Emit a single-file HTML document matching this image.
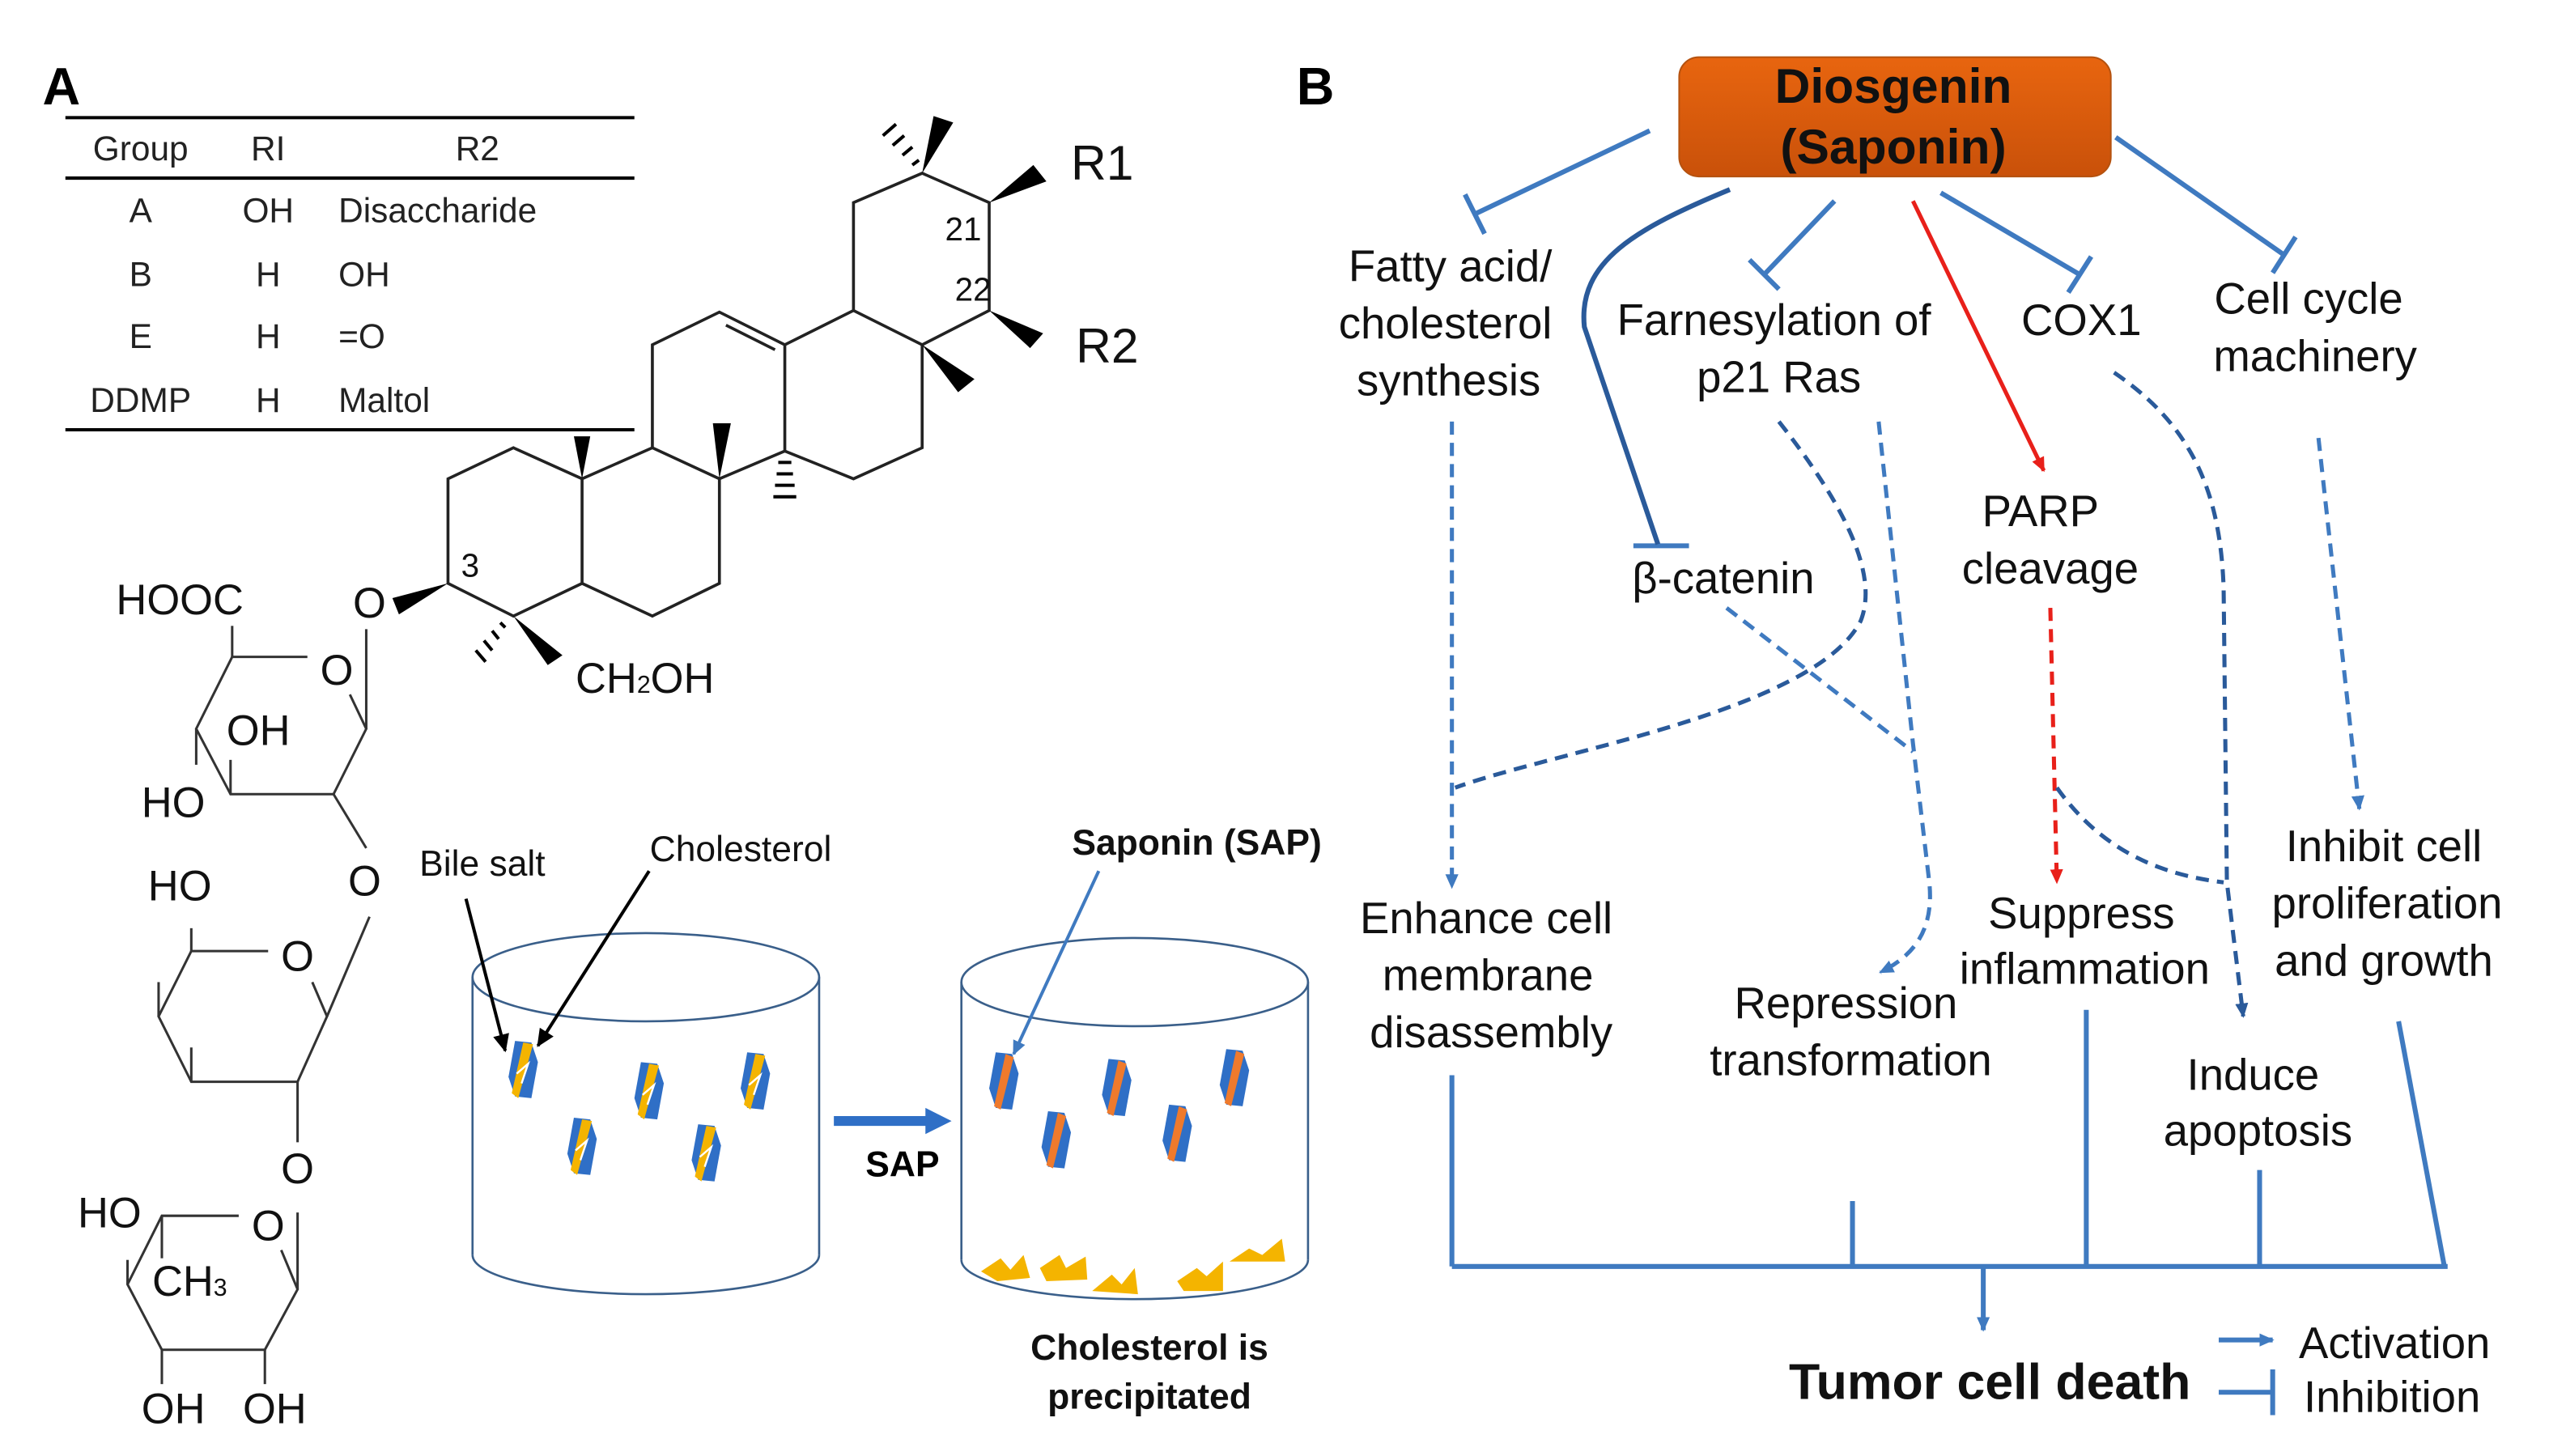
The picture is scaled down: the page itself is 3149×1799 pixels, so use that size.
<!DOCTYPE html>
<html><head><meta charset="utf-8"><style>
html,body{margin:0;padding:0;background:#fff}
svg{display:block}
text{font-family:"Liberation Sans",Arial,sans-serif}
</style></head><body>
<svg width="3149" height="1799" viewBox="0 0 1559 891" preserveAspectRatio="none" xmlns="http://www.w3.org/2000/svg">
<defs>
<linearGradient id="og" x1="0" y1="0" x2="0" y2="1">
<stop offset="0" stop-color="#e8650f"/><stop offset="1" stop-color="#c9510a"/>
</linearGradient>
<marker id="ab" markerWidth="10" markerHeight="10" refX="8" refY="5" orient="auto" markerUnits="userSpaceOnUse"><path d="M0,1 L9,5 L0,9 z" fill="#3f7ac0"/></marker>
<marker id="ar" markerWidth="10" markerHeight="10" refX="8" refY="5" orient="auto" markerUnits="userSpaceOnUse"><path d="M0,1 L9,5 L0,9 z" fill="#e8201a"/></marker>
<marker id="ak" markerWidth="12" markerHeight="12" refX="10" refY="6" orient="auto" markerUnits="userSpaceOnUse"><path d="M0,1 L11,6 L0,11 z" fill="#000"/></marker>
<marker id="abd" markerWidth="10" markerHeight="10" refX="8" refY="5" orient="auto" markerUnits="userSpaceOnUse"><path d="M0,1 L9,5 L0,9 z" fill="#2a5a9a"/></marker>
<g id="py"><polygon points="-5,-18 5,-17 9,-5 5,17 -5,16 -9,4" fill="#2f6fc6"/><polygon points="0,-17 6,-16 -3,17 -7,14" fill="#f4b400"/><path d="M-4,2 L3,-4 L-1,8" stroke="#fff" stroke-width="1.2" fill="none"/></g>
<g id="po"><polygon points="-5,-18 5,-17 9,-5 5,17 -5,16 -9,4" fill="#2f6fc6"/><polygon points="1,-17 6,-15 -2,17 -6,15" fill="#ef7a2c"/></g>
</defs>

<!-- Panel A -->
<text x="26" y="64" font-size="32" font-weight="bold">A</text>
<g stroke="#000" stroke-width="2"><line x1="40" y1="72" x2="388" y2="72"/><line x1="40" y1="109" x2="388" y2="109"/><line x1="40" y1="263" x2="388" y2="263"/></g>
<g font-size="21" fill="#222">
<text x="86" y="98" text-anchor="middle">Group</text><text x="164" y="98" text-anchor="middle">RI</text><text x="292" y="98" text-anchor="middle">R2</text>
<text x="86" y="136" text-anchor="middle">A</text><text x="164" y="136" text-anchor="middle">OH</text><text x="207" y="136">Disaccharide</text>
<text x="86" y="175" text-anchor="middle">B</text><text x="164" y="175" text-anchor="middle">H</text><text x="207" y="175">OH</text>
<text x="86" y="213" text-anchor="middle">E</text><text x="164" y="213" text-anchor="middle">H</text><text x="207" y="213">=O</text>
<text x="86" y="252" text-anchor="middle">DDMP</text><text x="164" y="252" text-anchor="middle">H</text><text x="207" y="252">Maltol</text>
</g>
<!-- steroid -->
<g stroke="#222" stroke-width="1.8" fill="none">
<polyline points="356,293 314,274 274,293 274,357 314,377 356,357 356,293 399,274 440,293 440,357 399,377 356,357"/>
<polyline points="399,274 399,211 440,191 480,211 480,276 440,293"/>
<line x1="444" y1="199" x2="474" y2="214"/>
<polyline points="480,211 522,190 564,211 564,274 522,293 480,276"/>
<polyline points="522,190 522,124 564,106 605,124 605,190 564,211"/>
</g>
<g fill="#000">
<polygon points="356,293 351,267 361,267"/>
<polygon points="440,293 436,259 447,259"/>
<polygon points="564,211 586,240 596,232"/>
<polygon points="605,190 630,213 638,204"/>
<polygon points="605,124 632,101 640,111"/>
<polygon points="564,106 571,71 583,75"/>
<polygon points="274,357 240,366 244,376"/>
<polygon points="314,377 335,407 344,401"/>
</g>
<g stroke="#000" stroke-width="2">
<line x1="476" y1="283" x2="484" y2="283"/><line x1="475" y1="290" x2="485" y2="290"/><line x1="474" y1="297" x2="486" y2="297"/><line x1="473" y1="304" x2="487" y2="304"/>
<line x1="558" y1="101" x2="562" y2="98"/><line x1="552" y1="95" x2="558" y2="90"/><line x1="546" y1="89" x2="553" y2="83"/><line x1="540" y1="83" x2="548" y2="76"/>
<line x1="309" y1="384" x2="306" y2="381"/><line x1="305" y1="391" x2="301" y2="386"/><line x1="301" y1="398" x2="296" y2="392"/><line x1="297" y1="405" x2="291" y2="398"/>
</g>
<g font-size="30" fill="#111"><text x="655" y="110">R1</text><text x="658" y="222">R2</text></g>
<g font-size="20" fill="#111"><text x="578" y="147">21</text><text x="584" y="184">22</text><text x="282" y="353">3</text></g>
<text x="352" y="424" font-size="26" fill="#111">CH<tspan font-size="15">2</tspan>OH</text>
<!-- sugars -->
<g stroke="#333" stroke-width="1.5" fill="none">
<polyline points="188,402 142,402 120,446 141,486 204,486 224,446 214,425"/>
<line x1="142" y1="402" x2="142" y2="383"/><line x1="120" y1="446" x2="120" y2="468"/><line x1="141" y1="486" x2="141" y2="465"/>
<line x1="224" y1="446" x2="224" y2="385"/><line x1="204" y1="486" x2="224" y2="519"/>
<polyline points="164,582 117,582 97,622 117,662 182,662 200,622 191,601"/>
<line x1="117" y1="582" x2="117" y2="568"/><line x1="97" y1="622" x2="97" y2="601"/><line x1="117" y1="662" x2="117" y2="641"/>
<line x1="200" y1="622" x2="226" y2="561"/><line x1="182" y1="662" x2="182" y2="699"/>
<polyline points="146,744 99,744 78,786 99,826 162,826 182,789 172,765"/>
<line x1="99" y1="744" x2="99" y2="770"/><line x1="78" y1="786" x2="78" y2="771"/><line x1="99" y1="826" x2="99" y2="847"/><line x1="162" y1="826" x2="162" y2="847"/>
<line x1="182" y1="789" x2="182" y2="742"/>
</g>
<g font-size="26" fill="#111" text-anchor="middle">
<text x="110" y="376">HOOC</text><text x="226" y="378">O</text><text x="206" y="419">O</text>
<text x="158" y="456">OH</text><text x="106" y="500">HO</text><text x="223" y="548">O</text>
<text x="110" y="551">HO</text><text x="182" y="594">O</text><text x="182" y="724">O</text>
<text x="67" y="751">HO</text><text x="164" y="759">O</text><text x="116" y="793">CH<tspan font-size="15">3</tspan></text>
<text x="106" y="871">OH</text><text x="168" y="871">OH</text>
</g>
<!-- cylinders -->
<g stroke="#3a5f8a" stroke-width="1.3" fill="none">
<ellipse cx="395" cy="598" rx="106" ry="27"/>
<line x1="289" y1="598" x2="289" y2="768"/><line x1="501" y1="598" x2="501" y2="768"/>
<path d="M289,768 A106,24 0 0 0 501,768"/>
<ellipse cx="694" cy="601" rx="106" ry="27"/>
<line x1="588" y1="601" x2="588" y2="771"/><line x1="800" y1="601" x2="800" y2="771"/>
<path d="M588,771 A106,24 0 0 0 800,771"/>
</g>
<use href="#py" x="320" y="655"/><use href="#py" x="397" y="668"/><use href="#py" x="462" y="662"/><use href="#py" x="356" y="702"/><use href="#py" x="432" y="706"/>
<use href="#po" x="614" y="662"/><use href="#po" x="683" y="666"/><use href="#po" x="755" y="660"/><use href="#po" x="646" y="698"/><use href="#po" x="720" y="694"/>
<g fill="#f4b400">
<polygon points="600,778 612,770 618,777 626,768 630,782 610,784"/>
<polygon points="636,776 648,768 652,776 664,769 665,783 640,784"/>
<polygon points="668,790 680,780 686,786 694,776 696,792"/>
<polygon points="720,784 732,776 738,781 748,772 748,790 724,790"/>
<polygon points="752,772 764,764 772,768 784,758 786,772"/>
</g>
<path d="M510,686 L568,686" stroke="#2f6fc6" stroke-width="6"/><polygon points="566,678 582,686 566,694" fill="#2f6fc6"/>
<text x="552" y="720" font-size="22" font-weight="bold" text-anchor="middle">SAP</text>
<line x1="285" y1="550" x2="309" y2="643" stroke="#000" stroke-width="2" marker-end="url(#ak)"/>
<line x1="397" y1="533" x2="329" y2="640" stroke="#000" stroke-width="2" marker-end="url(#ak)"/>
<line x1="672" y1="533" x2="620" y2="645" stroke="#3f7ac0" stroke-width="2" marker-end="url(#ab)"/>
<g font-size="22" fill="#111" text-anchor="middle">
<text x="295" y="536">Bile salt</text><text x="453" y="527">Cholesterol</text>
</g>
<g font-size="22" font-weight="bold" fill="#111" text-anchor="middle">
<text x="732" y="523">Saponin (SAP)</text><text x="703" y="832">Cholesterol is</text><text x="703" y="862">precipitated</text>
</g>

<!-- Panel B -->
<text x="793" y="64" font-size="32" font-weight="bold">B</text>
<rect x="1027" y="35" width="264" height="73" rx="12" fill="url(#og)" stroke="#b5520f" stroke-width="1"/>
<g font-size="30" font-weight="bold" fill="#111" text-anchor="middle"><text x="1158" y="63">Diosgenin</text><text x="1158" y="100">(Saponin)</text></g>
<g stroke="#3f7ac0" stroke-width="3" fill="none">
<line x1="1009" y1="80" x2="902" y2="131"/><line x1="908" y1="143" x2="896" y2="119"/>
<line x1="1122" y1="123" x2="1079" y2="168"/><line x1="1088" y1="177" x2="1070" y2="159"/>
<line x1="1187" y1="118" x2="1272" y2="168"/><line x1="1265" y1="179" x2="1279" y2="157"/>
<line x1="1294" y1="84" x2="1397" y2="156"/><line x1="1390" y1="167" x2="1404" y2="145"/>
<line x1="999" y1="334" x2="1033" y2="334"/>
</g>
<path d="M1058,116 C1000,140 965,160 969,200 L1014,333" stroke="#2a5a9a" stroke-width="3" fill="none"/>
<line x1="1170" y1="123" x2="1250" y2="288" stroke="#e8201a" stroke-width="2.5" marker-end="url(#ar)"/>
<g font-size="27" fill="#111" text-anchor="middle">
<text x="887" y="172">Fatty acid/</text><text x="884" y="207">cholesterol</text><text x="886" y="242">synthesis</text>
<text x="1085" y="205">Farnesylation of</text><text x="1088" y="240">p21 Ras</text>
<text x="1273" y="205">COX1</text>
<text x="1412" y="192">Cell cycle</text><text x="1416" y="227">machinery</text>
<text x="1054" y="363">β-catenin</text>
<text x="1248" y="322">PARP</text><text x="1254" y="357">cleavage</text>
<text x="909" y="571">Enhance cell</text><text x="910" y="606">membrane</text><text x="912" y="641">disassembly</text>
<text x="1129" y="623">Repression</text><text x="1132" y="658">transformation</text>
<text x="1273" y="568">Suppress</text><text x="1275" y="602">inflammation</text>
<text x="1378" y="667">Induce</text><text x="1381" y="701">apoptosis</text>
<text x="1458" y="527">Inhibit cell</text><text x="1460" y="562">proliferation</text><text x="1458" y="597">and growth</text>
</g>
<g stroke-width="2.5" fill="none" stroke-dasharray="8,5">
<line x1="888" y1="258" x2="888" y2="543" stroke="#3f7ac0" marker-end="url(#ab)"/>
<path d="M1088,258 C1125,305 1150,350 1138,380 C1110,435 950,460 890,482" stroke="#2a5a9a"/>
<path d="M1149,258 L1170,455 L1180,540 C1183,570 1170,585 1150,595" stroke="#3f7ac0" marker-end="url(#ab)"/>
<line x1="1056" y1="372" x2="1170" y2="460" stroke="#3f7ac0"/>
<line x1="1254" y1="372" x2="1258" y2="540" stroke="#e8201a" marker-end="url(#ar)"/>
<path d="M1293,228 C1340,260 1358,300 1360,360 L1362,540 L1372,622" stroke="#2a5a9a" marker-end="url(#abd)"/>
<path d="M1258,482 C1285,520 1320,535 1360,540" stroke="#2a5a9a"/>
<line x1="1418" y1="268" x2="1443" y2="495" stroke="#3f7ac0" marker-end="url(#ab)"/>
</g>
<g stroke="#3f7ac0" stroke-width="3" fill="none">
<line x1="888" y1="775" x2="1497" y2="775"/>
<line x1="888" y1="658" x2="888" y2="775"/>
<line x1="1133" y1="735" x2="1133" y2="775"/>
<line x1="1276" y1="618" x2="1276" y2="775"/>
<line x1="1382" y1="716" x2="1382" y2="775"/>
<line x1="1467" y1="625" x2="1495" y2="775"/>
<line x1="1213" y1="775" x2="1213" y2="814" marker-end="url(#ab)"/>
<line x1="1357" y1="820" x2="1390" y2="820" marker-end="url(#ab)"/>
<line x1="1357" y1="852" x2="1390" y2="852"/><line x1="1390" y1="838" x2="1390" y2="866"/>
</g>
<text x="1217" y="856" font-size="31" font-weight="bold" text-anchor="middle" fill="#111">Tumor cell death</text>
<g font-size="27" fill="#111"><text x="1406" y="831">Activation</text><text x="1409" y="864">Inhibition</text></g>
</svg>
</body></html>
